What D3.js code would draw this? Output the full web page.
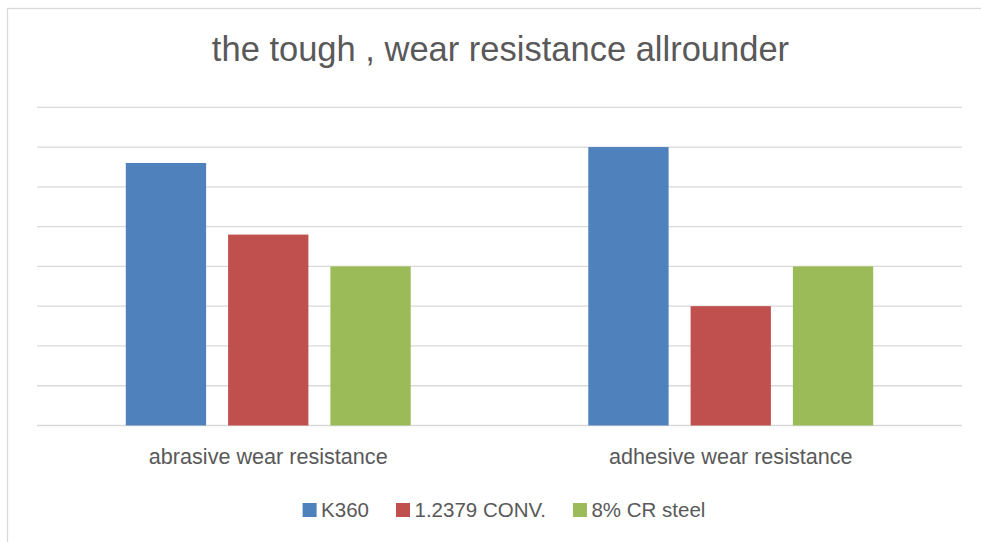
<!DOCTYPE html>
<html><head><meta charset="utf-8">
<script src="https://cdn.jsdelivr.net/npm/d3@7"></script>
<style>html,body{margin:0;padding:0;background:#fff;} svg{display:block;}</style>
</head><body>
<svg id="chart" width="981" height="542"></svg>
<script>
const title = "the tough , wear resistance allrounder";
const categories = ["abrasive wear resistance", "adhesive wear resistance"];
const seriesNames = ["K360", "1.2379 CONV.", "8% CR steel"];
const seriesColors = ["#4f81bd", "#c0504d", "#9bbb59"];
const k360 = [6.6, 7.0];
const conv2379 = [4.8, 3.0];
const cr8 = [4.0, 4.0];
const yTicks = [0, 1, 2, 3, 4, 5, 6, 7, 8];

const seriesValues = [k360, conv2379, cr8];
const svg = d3.select("#chart");
const font = "'Liberation Sans', Arial, sans-serif";
const textColor = "#595959";

// chart border
svg.append("rect").attr("x", 7.5).attr("y", 8.5).attr("width", 1100).attr("height", 700)
  .attr("fill", "#fff").attr("stroke", "#d9d9d9").attr("stroke-width", 1.3);

svg.append("text").attr("x", 500.5).attr("y", 61).attr("text-anchor", "middle")
  .attr("font-family", font).attr("font-size", 34.5).attr("fill", textColor).text(title);

const plot = {left: 37, right: 962, top: 107.3, bottom: 425.5};
const y = d3.scaleLinear().domain([0, 8]).range([plot.bottom, plot.top]);
const x0 = d3.scaleBand().domain(categories).range([plot.left, plot.right])
  .paddingInner(0.384).paddingOuter(0.192);
const x1 = d3.scaleBand().domain(seriesNames).range([0, x0.bandwidth()])
  .paddingInner(0.215).paddingOuter(0);

// gridlines
svg.append("g").selectAll("line").data(yTicks).join("line")
  .attr("x1", plot.left).attr("x2", plot.right)
  .attr("y1", d => y(d)).attr("y2", d => y(d))
  .attr("stroke", "#d9d9d9").attr("stroke-width", 1.3);

// bars
const groups = svg.append("g").selectAll("g").data(categories).join("g")
  .attr("transform", d => `translate(${x0(d)},0)`);
groups.selectAll("rect").data((c, ci) => seriesNames.map((s, si) => ({s, si, v: seriesValues[si][ci]})))
  .join("rect")
  .attr("x", d => x1(d.s)).attr("width", x1.bandwidth())
  .attr("y", d => y(d.v)).attr("height", d => y(0) - y(d.v))
  .attr("fill", d => seriesColors[d.si]);

// category labels
svg.append("g").selectAll("text").data(categories).join("text")
  .attr("x", d => x0(d) + x0.bandwidth() / 2).attr("y", 464)
  .attr("text-anchor", "middle").attr("font-family", font).attr("font-size", 21.6)
  .attr("fill", textColor).text(d => d);

// legend
const lg = svg.append("g");
const items = lg.selectAll("g").data(seriesNames).join("g");
items.append("rect").attr("width", 14).attr("height", 14).attr("y", 503)
  .attr("fill", (d, i) => seriesColors[i]);
items.append("text").attr("x", 18.5).attr("y", 517).attr("font-family", font)
  .attr("font-size", 20.5).attr("fill", textColor).text(d => d);
const widths = [];
items.each(function(d) {
  const w = 18.5 + this.querySelector("text").getComputedTextLength();
  widths.push(w);
});
const gap = 27;
const total = d3.sum(widths) + gap * (widths.length - 1);
let start = 504 - total / 2;
items.attr("transform", (d, i) => {
  const t = `translate(${start},0)`;
  start += widths[i] + gap;
  return t;
});
</script>
</body></html>
